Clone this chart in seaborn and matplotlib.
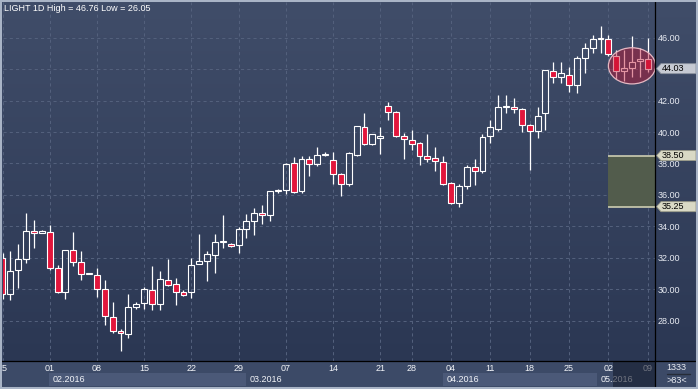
import numpy as np
import pandas as pd
import matplotlib
matplotlib.use("Agg")
import matplotlib.pyplot as plt
import seaborn as sns
from matplotlib.patches import Rectangle, Ellipse, Polygon
from matplotlib.lines import Line2D
from matplotlib.colors import LinearSegmentedColormap

# ---------------- data ----------------
opens = [32.00, 29.71, 31.24, 31.94, 33.70, 33.60, 33.66, 31.37, 29.84, 32.51,
         31.75, 30.98, 30.92, 30.03, 28.25, 27.35, 27.16, 28.88, 29.14, 29.97,
         29.07, 30.60, 30.36, 29.85, 29.83, 31.63, 31.82, 32.20, 33.02, 32.88,
         32.84, 33.80, 34.37, 34.88, 34.69, 36.25, 36.34, 38.00, 36.26, 38.28,
         37.96, 38.55, 38.24, 37.36, 36.71, 38.56, 40.30, 39.22, 39.64, 41.64,
         41.26, 39.77, 39.52, 39.32, 38.50, 38.33, 38.07, 36.73, 35.46, 36.54,
         37.75, 37.50, 39.73, 40.20, 41.62, 41.56, 41.44, 40.42, 40.06, 41.24,
         43.90, 43.47, 43.62, 42.98, 44.68, 45.32, 45.92, 45.89, 44.85, 43.90,
         44.05, 44.50, 44.62]
highs = [32.30, 32.41, 32.85, 34.83, 34.38, 33.75, 34.06, 31.52, 32.51, 33.62,
         32.41, 31.02, 31.37, 30.56, 29.16, 27.44, 29.67, 29.20, 30.11, 31.45,
         31.13, 31.94, 30.73, 29.95, 32.01, 33.50, 32.40, 33.50, 34.71, 32.93,
         33.93, 34.77, 35.15, 35.33, 36.22, 36.39, 38.06, 38.40, 38.49, 38.49,
         39.07, 38.70, 38.70, 37.40, 38.73, 40.40, 41.20, 39.90, 40.32, 41.90,
         41.34, 39.92, 40.11, 39.39, 39.88, 39.05, 38.48, 36.80, 36.67, 37.88,
         38.28, 39.86, 40.77, 42.33, 42.38, 42.14, 41.50, 40.50, 41.56, 43.94,
         44.47, 44.47, 44.15, 44.85, 45.68, 46.17, 46.76, 46.17, 45.20, 45.20,
         46.10, 45.32, 45.96]
lows = [29.40, 29.33, 30.07, 31.66, 32.62, 33.55, 31.24, 29.75, 29.37, 31.47,
        30.58, 30.96, 29.50, 27.72, 27.23, 26.05, 26.90, 28.73, 28.73, 28.67,
        28.67, 30.18, 28.99, 29.57, 29.44, 31.60, 30.53, 31.04, 32.65, 32.70,
        32.29, 33.29, 33.48, 34.15, 34.37, 36.13, 36.07, 36.10, 36.13, 37.20,
        37.87, 38.45, 36.67, 35.95, 36.59, 38.50, 39.20, 39.20, 38.62, 40.79,
        39.70, 38.31, 38.88, 37.92, 38.11, 37.54, 36.60, 35.40, 35.25, 36.35,
        36.65, 37.41, 39.27, 40.08, 41.23, 41.18, 39.97, 37.60, 39.59, 40.12,
        43.09, 43.09, 42.56, 42.50, 43.77, 45.00, 45.00, 44.83, 43.35, 43.26,
        43.47, 43.52, 43.80]
closes = [29.71, 31.18, 31.94, 33.72, 33.60, 33.70, 31.37, 29.84, 32.51, 31.75,
          30.99, 31.00, 30.03, 28.31, 27.35, 27.23, 28.88, 29.05, 29.99, 29.07,
          30.67, 30.28, 29.84, 29.66, 31.57, 31.82, 32.27, 33.03, 33.04, 32.78,
          33.80, 34.37, 34.88, 34.69, 36.22, 36.27, 37.94, 36.20, 38.28, 37.96,
          38.56, 38.57, 37.36, 36.72, 38.65, 40.37, 39.26, 39.86, 39.77, 41.26,
          39.77, 39.58, 39.26, 38.50, 38.31, 38.14, 36.67, 35.46, 36.54, 37.75,
          37.50, 39.66, 40.35, 41.62, 41.64, 41.44, 40.44, 40.06, 41.03, 43.94,
          43.47, 43.73, 42.98, 44.68, 45.32, 45.89, 45.94, 44.96, 43.88, 44.05,
          44.47, 44.62, 44.03]

week_ticks = [0, 6, 12, 18, 24, 30, 36, 42, 48, 52, 57, 62, 67, 72, 77, 82]
week_labels = ["25", "01", "08", "15", "22", "29", "07", "14", "21", "28",
               "04", "11", "18", "25", "02", "09"]
month_labels = ["02.2016", "03.2016", "04.2016", "05.2016"]
month_starts = [6, 31, 56, 75.6]
price_ticks = [28, 30, 32, 34, 36, 38, 40, 42, 44, 46]
zone_levels = [35.25, 38.50]
last_price = 44.03
symbol = "LIGHT 1D"
panel_count = "1333"

df = pd.DataFrame({"open": opens, "high": highs, "low": lows, "close": closes})
df["i"] = np.arange(len(df))

# ---------------- style ----------------
sns.set_theme(style="dark")
plt.rcParams["font.family"] = ["Liberation Sans", "DejaVu Sans"]

W, H = 698, 389
fig = plt.figure(figsize=(W / 100, H / 100), dpi=100)
fig.patch.set_facecolor("#3a4764")


def px_rect(x0, y0, x1, y1):
    return [x0 / W, 1 - y1 / H, (x1 - x0) / W, (y1 - y0) / H]


grad = LinearSegmentedColormap.from_list("bg", ["#404d69", "#2b3753"])
gvals = np.linspace(0, 1, 256).reshape(-1, 1)

# right price panel
axr = fig.add_axes(px_rect(655, 0, 698, 361))
axr.imshow(gvals, cmap=grad, aspect="auto", extent=[0, 1, 0, 1])
axr.set_xlim(0, 1); axr.set_ylim(0, 1)
axr.set_axis_off()
axr.set_zorder(1)

# bottom date panel
axb = fig.add_axes(px_rect(2.5, 361, 655, 389))
axb.set_facecolor("#3c4a67")
axb.set_zorder(1)
for s in axb.spines.values():
    s.set_visible(False)

# bottom-right panel
axbr = fig.add_axes(px_rect(655, 361, 698, 389))
axbr.set_facecolor("#3c4a67")
axbr.set_xticks([]); axbr.set_yticks([])
for s in axbr.spines.values():
    s.set_visible(False)
axbr.set_xlim(0, 1); axbr.set_ylim(0, 1)
axbr.text(0.5, (389 - 367.5) / 28, panel_count, ha="center", va="center",
          color="#e8ebf2", fontsize=6.5)
axbr.text(0.5, (389 - 380.5) / 28, f">{len(df)}<", ha="center", va="center",
          color="#e8ebf2", fontsize=6.5)
axbr.plot([0.27, 0.82], [(389 - 374) / 28] * 2, color="#262c38", lw=1.0)
axbr.set_zorder(1)

# main chart
ax = fig.add_axes(px_rect(2.5, 2, 655, 361))
ax.set_zorder(3)
ax.patch.set_visible(False)
ax.imshow(gvals, cmap=grad, aspect="auto", extent=[0, 1, 0, 1],
          transform=ax.transAxes, zorder=0)

x = df["i"].to_numpy()
o = df["open"].to_numpy(); c = df["close"].to_numpy()
hi = df["high"].to_numpy(); lo = df["low"].to_numpy()
down = c < o
btm = np.minimum(o, c)
top = np.maximum(o, c)
hgt = np.maximum(top - btm, 0.04)

red = "#e2163c"
ax.vlines(x, top, hi, color="white", lw=0.9, zorder=4)
ax.vlines(x, lo, btm, color="white", lw=0.9, zorder=4)
ax.bar(x, hgt, bottom=btm, width=0.75,
       color=[red if d else (0, 0, 0, 0) for d in down],
       edgecolor="white", linewidth=0.8, zorder=5)

xmin = (2.5 - 2.06) / 7.874
xmax = (655 - 2.06) / 7.874
ymin = 46 - (361 - 37.7) / 15.72
ymax = 46 + (37.7 - 2) / 15.72

# support / resistance zone
zx0 = 76.9
ax.add_patch(Rectangle((zx0, zone_levels[0]), xmax - zx0,
                       zone_levels[1] - zone_levels[0],
                       facecolor="#525c4c", edgecolor="none", zorder=2))
ax.hlines(zone_levels, zx0, xmax, color="#cdcdb2", lw=1.2, zorder=3)

# highlight ellipse around the last candles
last = df.iloc[-5:]
ax.add_patch(Ellipse((80.0, last["close"].mean()), 6.0, 2.3,
                     facecolor=(0.76, 0.08, 0.2, 0.45), edgecolor="#e6b8c2",
                     lw=0.9, zorder=6))

ax.set_xlim(xmin, xmax)
ax.set_ylim(ymin, ymax)

ax.set_xticks(week_ticks)
ax.set_xticklabels(week_labels)
ax.set_yticks(price_ticks)
ax.yaxis.tick_right()
# the 44.00 label is hidden under the last-price tag in the reference
ax.set_yticklabels(["" if abs(v - last_price) < 0.5 else f"{v:.2f}"
                    for v in price_ticks])
ax.tick_params(axis="x", length=0, pad=2.0, labelsize=6.5, labelcolor="#f2f4f8")
ax.tick_params(axis="y", length=0, pad=2.2, labelsize=6.5, labelcolor="#e8ebf2")
ax.set_axisbelow(True)
ax.grid(True, color="#53607c", linestyle=(0, (3, 3)), linewidth=0.75)
for s in ax.spines.values():
    s.set_visible(False)

# price tags (arrow-shaped boxes in the right panel)
ytr = ax.get_yaxis_transform()
axw = 655 - 2.5


def fx(px):
    return (px - 2.5) / axw


hh = 5.0 / 15.72


def tag(level, fc, ec):
    pts = [(fx(656.5), level), (fx(661), level + hh), (fx(696), level + hh),
           (fx(696), level - hh), (fx(661), level - hh)]
    ax.add_patch(Polygon(pts, closed=True, transform=ytr, facecolor=fc,
                         edgecolor=ec, lw=0.6, zorder=8, clip_on=False))
    ax.text(fx(662), level, f"{level:.2f}", transform=ytr, ha="left",
            va="center", fontsize=6.5, color="black", zorder=9, clip_on=False)


tag(last_price, "#c6cad3", "#8a919e")
for lv in zone_levels:
    tag(lv, "#d9d9c5", "#9a9a88")

# month bands / labels in bottom panel
axb.set_xlim(xmin, xmax)
axb.set_ylim(0, 1)
axb.set_xticks([]); axb.set_yticks([])
bounds = month_starts + [xmax]
for k, lab in enumerate(month_labels):
    if k % 2 == 0:
        axb.axvspan(bounds[k], bounds[k + 1], ymin=(389 - 386) / 28,
                    ymax=(389 - 373) / 28, color="#4b5978", lw=0)
    axb.text(bounds[k] + 0.45, (389 - 379.5) / 28, lab, ha="left", va="center",
             fontsize=6.5, color="#f2f4f8")

# dim "current" region on date axis
fig.add_artist(Rectangle((612.7 / W, 1 - 386.7 / H), (655 - 612.7) / W,
                         (386.7 - 361.5) / H, transform=fig.transFigure,
                         facecolor=(0.08, 0.1, 0.17, 0.58), edgecolor="none",
                         zorder=9))

# title
hi_v, lo_v = df["high"].max(), df["low"].min()
fig.text(4.5 / W, 1 - 8.5 / H, f"{symbol} High = {hi_v:.2f} Low = {lo_v:.2f}",
         ha="left", va="center", color="white", fontsize=6.5, zorder=10)

# separator lines
fig.add_artist(Line2D([0, 1], [1 - 361 / H] * 2, transform=fig.transFigure,
                      color="black", lw=0.9, zorder=10))
fig.add_artist(Line2D([655 / W] * 2, [0, 1], transform=fig.transFigure,
                      color="black", lw=0.9, zorder=10))
# outer frame
fig.add_artist(Rectangle((0, 0), 1, 1, transform=fig.transFigure, fill=False,
                         edgecolor="#a9b4c6", lw=2.9, zorder=20))

fig.savefig("out.png", dpi=100)
